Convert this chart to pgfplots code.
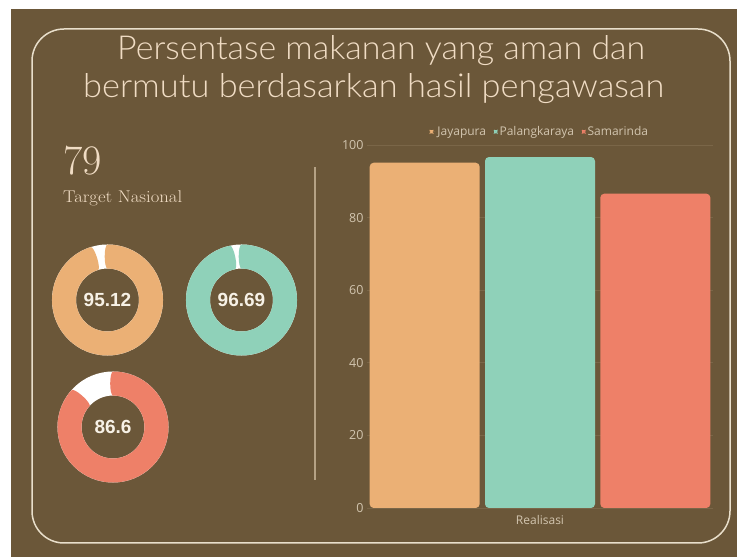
\documentclass[border=0pt]{standalone}
\usepackage{pgfplots}
\pgfplotsset{compat=1.18}
\usepackage{fontspec}
\usepackage{graphicx}
\newfontfamily\chartfont{Open Sans}
\newfontfamily\numfont{Liberation Sans}
\IfFontExistsTF{Lato Light}{\newfontfamily\titlefont{Lato Light}}{\newfontfamily\titlefont{Lato}}
\definecolor{bgc}{HTML}{6B5739}
\definecolor{borderc}{HTML}{E9DFCB}
\definecolor{titlec}{HTML}{F0DCC4}
\definecolor{orangeC}{HTML}{EBB075}
\definecolor{tealC}{HTML}{8FD1B9}
\definecolor{redC}{HTML}{EE8068}
\definecolor{tickc}{HTML}{D2C5AF}
\definecolor{gridc}{HTML}{7A6648}
\definecolor{sepc}{HTML}{B5A285}
\definecolor{numc}{HTML}{F7F1E6}
\def\vA{95.12}
\def\vB{96.69}
\def\vC{86.6}
% donut: #1 colour, #2 cx, #3 cy, #4 value, #5 label
\newcommand\donut[5]{%
  \draw[white, line width=24pt] (axis cs:#2,#3) circle[radius=43.5pt];
  \draw[#1, line width=24pt, line cap=butt] (axis cs:#2,#3) ++(90:43.5pt)
    arc[start angle=90, delta angle={-3.6*#4}, radius=43.5pt];
  \fill[#1] (axis cs:#2,#3) ++(90:43.5pt) ellipse[x radius=2.8pt, y radius=12pt];
  \fill[#1, rotate around={-3.6*#4:(axis cs:#2,#3)}] (axis cs:#2,#3) ++(90:43.5pt)
    ellipse[x radius=2.8pt, y radius=12pt];
  \node[font=\numfont\bfseries\fontsize{19}{22}\selectfont, text=numc] at (axis cs:#2,#3) {#5};
}
\begin{document}
\begin{tikzpicture}
\fill[white] (0pt,0pt) rectangle (737pt,557pt);
\fill[bgc] (11pt,0pt) rectangle (737pt,548pt);
\draw[borderc, line width=1.5pt, rounded corners=32pt] (32pt,14pt) rectangle (730pt,528pt);
\node[anchor=base west, inner sep=0pt, text=titlec] at (117pt,497pt)
  {\resizebox{528pt}{\height}{\titlefont\fontsize{33}{38}\selectfont Persentase makanan yang aman dan}};
\node[anchor=base west, inner sep=0pt, text=titlec] at (83pt,459pt)
  {\resizebox{581pt}{\height}{\titlefont\fontsize{33}{38}\selectfont bermutu berdasarkan hasil pengawasan}};
\node[anchor=base west, inner sep=0pt, text=titlec] at (63pt,382pt)
  {\fontsize{42}{48}\selectfont 79};
\node[anchor=base west, inner sep=0pt, text=titlec] at (63pt,354pt)
  {\resizebox{119pt}{\height}{\fontsize{17}{20}\selectfont Target Nasional}};
\draw[sepc, line width=1.3pt] (315pt,77pt) -- (315pt,390pt);

% donuts
\begin{axis}[at={(0pt,0pt)}, anchor=south west, scale only axis,
  width=737pt, height=557pt, xmin=0, xmax=737, ymin=0, ymax=557,
  hide axis, clip=false]
\donut{orangeC}{107.5}{257}{\vA}{95.12}
\donut{tealC}{241.5}{257}{\vB}{96.69}
\donut{redC}{113}{130}{\vC}{86.6}
\end{axis}

% bar chart
\begin{axis}[at={(367pt,49pt)}, anchor=south west, scale only axis,
  width=346pt, height=363pt,
  xmin=-0.5, xmax=2.5, ymin=0, ymax=100,
  ybar,
  axis line style={draw=none}, tick style={draw=none},
  xtick=\empty, ytick={0,20,40,60,80,100},
  ymajorgrids, grid style={gridc, line width=0.6pt},
  /pgf/number format/assume math mode=true,
  yticklabel style={font=\chartfont\fontsize{12.5}{14}\selectfont, text=tickc},
  xlabel={Realisasi},
  xlabel style={at={(axis description cs:0.5,0)}, anchor=center, yshift=-12pt,
    font=\chartfont\fontsize{12}{14}\selectfont, text=tickc},
  legend columns=-1,
  legend style={at={(0.5,1.0366)}, anchor=center, draw=none, fill=none,
    font=\chartfont\fontsize{12}{14}\selectfont, text=tickc,
    /tikz/every even column/.append style={column sep=6pt}},
  clip=false]
\addplot[fill=orangeC, draw=none, bar width=110pt, bar shift=0pt, rounded corners=4pt,
  legend image code/.code={\fill[orangeC] (0pt,-1.6pt) rectangle (3.2pt,1.6pt);\path (0pt,0pt) -- (5.5pt,0pt);}]
  coordinates {(0,95.12)};
\addlegendentry{Jayapura}
\addplot[fill=tealC, draw=none, bar width=110pt, bar shift=0pt, rounded corners=4pt,
  legend image code/.code={\fill[tealC] (0pt,-1.6pt) rectangle (3.2pt,1.6pt);\path (0pt,0pt) -- (3.5pt,0pt);}]
  coordinates {(1,96.69)};
\addlegendentry{Palangkaraya}
\addplot[fill=redC, draw=none, bar width=110pt, bar shift=0pt, rounded corners=4pt,
  legend image code/.code={\fill[redC] (0pt,-1.6pt) rectangle (3.2pt,1.6pt);\path (0pt,0pt) -- (3.5pt,0pt);}]
  coordinates {(2,86.6)};
\addlegendentry{Samarinda}
\end{axis}
\pgfresetboundingbox
\path[use as bounding box] (0pt,0pt) rectangle (737pt,557pt);
\end{tikzpicture}
\end{document}
